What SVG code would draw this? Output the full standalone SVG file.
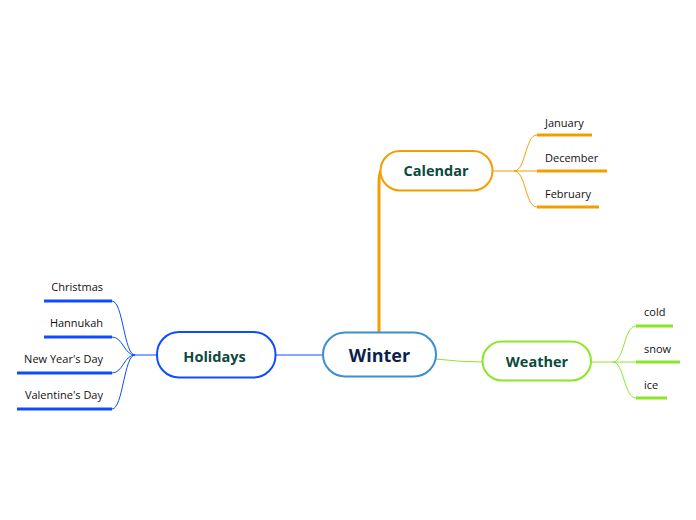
<svg xmlns="http://www.w3.org/2000/svg" width="696" height="520" viewBox="0 0 696 520">
<style>
.node{fill:#fff;stroke-width:2}
.t{font-family:"Open Sans","Noto Sans",sans-serif;font-weight:bold;fill:#0b4a3a;font-size:14.5px;text-anchor:middle}
.leaf{font-family:"Open Sans","Noto Sans",sans-serif;font-size:11px;fill:#111}
.thin{fill:none;stroke-width:1}
.ul{fill:none;stroke-width:3}
.o{stroke:#f59d00}
.b{stroke:#0d4cff}
.g{stroke:#8be62a}
</style>
<rect width="696" height="520" fill="#fff"/>
<g id="connectors">
<path class="o" d="M379,332 L379,185 Q379,172 381,171" fill="none" stroke-width="3"/>
<path class="b thin" d="M323,355 L276,355" stroke-width="1.5"/>
<path class="g thin" d="M436,359 Q460,362 483,362" stroke-width="1.5"/>
<path class="o thin" d="M493,171 L514,171 C526,171 525,135 537,135 M514,171 L537,171 M514,171 C526,171 525,207 537,207"/>
<path class="o ul" d="M537,135 H592 M537,171 H607 M537,207 H599"/>
<path class="b thin" d="M157,355 L135,355 C124,355 123,301 112,301 M135,355 C124,355 123,337 112,337 M135,355 C124,355 123,373 112,373 M135,355 C124,355 123,409 112,409"/>
<path class="b ul" d="M44,301 H112 M44,337 H112 M17,373 H112 M17,409 H112"/>
<path class="g thin" d="M591,362 L613,362 C624,362 624,326 636,326 M613,362 L636,362 M613,362 C624,362 624,398 636,398"/>
<path class="g ul" d="M636,326 H673 M636,362 H680 M636,398 H667"/>
</g>
<g id="winter">
<rect class="node" x="323" y="332.5" width="113" height="44" rx="22" stroke="#3a8ed4"/>
<text class="t" x="379.5" y="362" style="font-size:18px;fill:#0d1f4d">Winter</text>
</g>
<g id="calendar">
<rect class="node" x="380.5" y="151" width="112" height="39.5" rx="19.5" stroke="#f59d00"/>
<text class="t" x="436" y="176">Calendar</text>
</g>
<g id="holidays">
<rect class="node" x="157" y="332" width="118.5" height="45.5" rx="22" stroke="#0d4cff"/>
<text class="t" x="214.5" y="362">Holidays</text>
</g>
<g id="weather">
<rect class="node" x="482.5" y="341.5" width="108.5" height="39" rx="19.5" stroke="#8be62a"/>
<text class="t" x="537" y="367">Weather</text>
</g>
<g id="january"><text class="leaf" x="545" y="126.5">January</text></g>
<g id="december"><text class="leaf" x="545" y="162">December</text></g>
<g id="february"><text class="leaf" x="545" y="198">February</text></g>
<g id="christmas"><text class="leaf" x="103" y="290.5" text-anchor="end">Christmas</text></g>
<g id="hannukah"><text class="leaf" x="103" y="326.5" text-anchor="end">Hannukah</text></g>
<g id="newyear"><text class="leaf" x="103" y="363" text-anchor="end">New Year's Day</text></g>
<g id="valentine"><text class="leaf" x="103" y="399" text-anchor="end">Valentine's Day</text></g>
<g id="cold"><text class="leaf" x="644" y="316">cold</text></g>
<g id="snow"><text class="leaf" x="644" y="352.5">snow</text></g>
<g id="ice"><text class="leaf" x="644" y="389">ice</text></g>
</svg>
